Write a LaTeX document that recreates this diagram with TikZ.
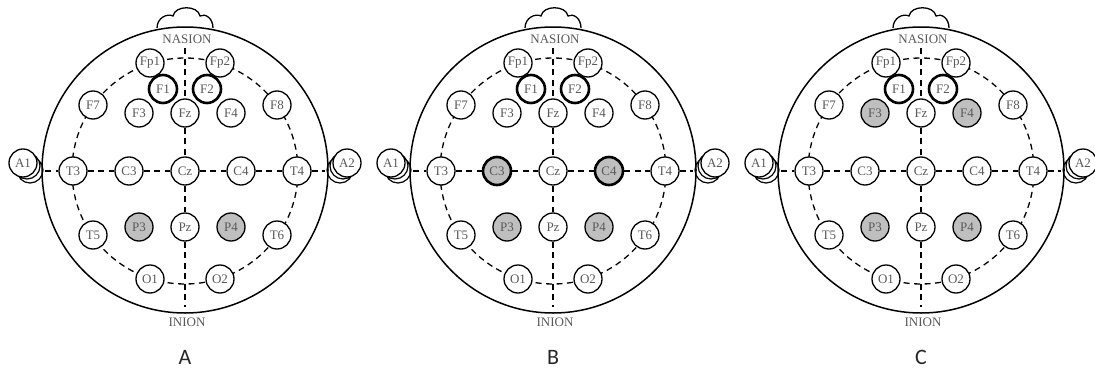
\documentclass[tikz,border=0pt]{standalone}
\usepackage{fontspec}
\setmainfont{Liberation Serif}
\newfontfamily\panelfont{Carlito}
\tikzset{
  elec/.style={circle, draw, fill=white, line width=1.3pt, minimum size=28pt, inner sep=0pt, text=black!65, font=\fontsize{13}{14}\selectfont},
  pick/.style={elec, line width=2.6pt},
  shade/.style={elec, fill=black!25},
  guide/.style={line width=1.3pt, dash pattern=on 6pt off 4.5pt},
  onAP3/.style={shade}, onAP4/.style={shade},
  onBC3/.style={shade, line width=2.6pt}, onBC4/.style={shade, line width=2.6pt},
  onBP3/.style={shade}, onBP4/.style={shade},
  onCF3/.style={shade}, onCF4/.style={shade},
  onCP3/.style={shade}, onCP4/.style={shade}
}
\begin{document}
\begin{tikzpicture}[x=1pt, y=-1pt]
\useasboundingbox (0,0) rectangle (1095,372);
\foreach \p/\cx in {A/185, B/553, C/921} {
  \begin{scope}[shift={(\cx,171)}]
    \draw[fill=white, line width=1.2pt] (-155,-1) circle[radius=13] (-158,-5) circle[radius=13];
    \draw[fill=white, line width=1.2pt] (155,-1) circle[radius=13] (158,-5) circle[radius=13];
    \draw[line width=1.5pt] (0,-1) circle[radius=143];
    \draw[line width=1.3pt] (-28,-143) .. controls (-28,-153) and (-18,-158) .. (-12,-155)
      .. controls (-10,-166) and (13,-166) .. (15,-155)
      .. controls (20,-158) and (28,-153) .. (28,-143);
    \draw[guide] (0,0) circle[radius=113];
    \foreach \n/\ex/\ey/\s in {Fp1/-35/-108/elec, Fp2/35/-108/elec, F1/-22/-82/pick, F2/22/-82/pick,
      F7/-92/-66/elec, F3/-46/-58/elec, Fz/0/-58/elec, F4/46/-58/elec, F8/92/-66/elec,
      A1/-162/-8/elec, T3/-112/0/elec, C3/-56/0/elec, Cz/0/0/elec, C4/56/0/elec, T4/112/0/elec, A2/162/-8/elec,
      T5/-92/64/elec, P3/-46/56/elec, Pz/0/56/elec, P4/46/56/elec, T6/92/64/elec,
      O1/-35/108/elec, O2/35/108/elec}
      \node[\s, on\p\n/.try] (\p-\n) at (\ex,\ey) {\n};
    \coordinate (\p-top) at (0,-123);
    \coordinate (\p-bot) at (0,136);
    \coordinate (\p-left) at (-140,0);
    \coordinate (\p-right) at (140,0);
    \draw[guide] (\p-top) -- (\p-Fz) -- (\p-Cz) -- (\p-Pz) -- (\p-bot);
    \draw[guide] (\p-left) -- (\p-T3) -- (\p-C3) -- (\p-Cz) -- (\p-C4) -- (\p-T4) -- (\p-right);
    \node[text=black!65, font=\fontsize{13}{14}\selectfont] (\p-nasion) at (2,-132) {NASION};
    \node[text=black!65, font=\fontsize{13}{14}\selectfont] (\p-inion) at (2,151) {INION};
    \node[text=black!85, font=\panelfont\fontsize{22}{24}\selectfont] (\p-name) at (0,186) {\p};
  \end{scope}
}
\end{tikzpicture}
\end{document}
